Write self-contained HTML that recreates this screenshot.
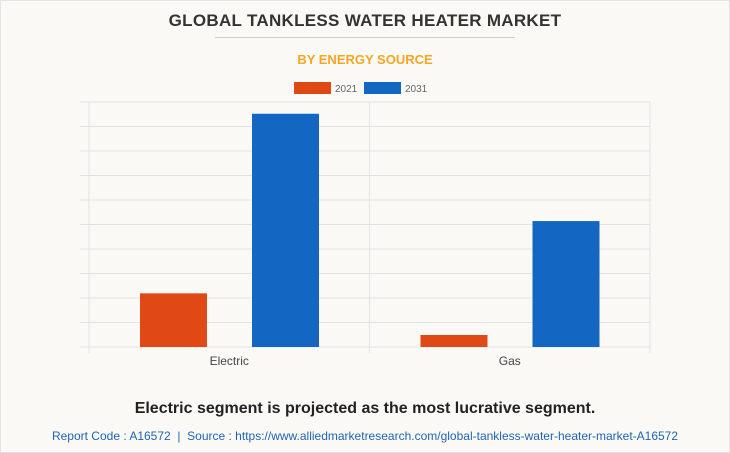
<!DOCTYPE html>
<html><head><meta charset="utf-8"><style>
body{margin:0;background:#fff}
#wrap{position:relative;width:728px;height:451px;border:1px solid #e4e4e4;background:#faf9f5;font-family:"Liberation Sans",sans-serif;overflow:hidden}
.t{position:absolute;left:0;width:728px;text-align:center}
</style></head><body>
<div id="wrap">
<div class="t" style="top:10px;font-size:17px;font-weight:bold;color:#333;letter-spacing:0.3px">GLOBAL TANKLESS WATER HEATER MARKET</div>
<div style="position:absolute;left:214px;top:36px;width:300px;height:1px;background:#ccc"></div>
<div class="t" style="top:51px;font-size:13px;font-weight:bold;color:#f5a623">BY ENERGY SOURCE</div>
<svg id="chart" width="728" height="380" style="position:absolute;left:0;top:0"></svg>
<div class="t" style="top:399px;font-size:16px;font-weight:bold;color:#222">Electric segment is projected as the most lucrative segment.</div>
<div class="t" style="top:428px;font-size:12px;color:#1e64b4">Report Code : A16572 &nbsp;|&nbsp; Source : https://www.alliedmarketresearch.com/global-tankless-water-heater-market-A16572</div>
</div>
<script>
const categories=["Electric","Gas"];
const series2021=[2.19,0.49];
const series2031=[9.52,5.14];
const seriesNames=["2021","2031"];
const yMax=10;
const svg=document.getElementById('chart');
const NS='http://www.w3.org/2000/svg';
const L=88,R=649,T=101,B=346;
function y(v){return B-(v/yMax)*(B-T);}
const cw=(R-L)/categories.length;
function mk(t,a){const e=document.createElementNS(NS,t);for(const k in a)e.setAttribute(k,a[k]);svg.appendChild(e);return e;}
for(let i=0;i<=10;i++){const g=mk('line',{x1:79,x2:R,y1:y(i*yMax/10),y2:y(i*yMax/10),stroke:'#e2e2e2','stroke-width':1});

}
for(let i=0;i<=categories.length;i++){const v=mk('line',{x1:L+i*cw,x2:L+i*cw,y1:T,y2:B+6,stroke:'#e2e2e2'});

}
const colors=["#e04816","#1366c2"];
const all=[series2021,series2031];
categories.forEach((c,i)=>{
 all.forEach((s,j)=>{
  const x=L+i*cw+51+j*112;
  const r=mk('rect',{x:x,y:y(s[i]),width:67,height:B-y(s[i]),fill:colors[j]});
  
  
 });
 const t=mk('text',{x:L+i*cw+cw/2,y:364,'text-anchor':'middle','font-size':12,fill:'#444'});
 t.textContent=c;
 
 
});
const lx=[293,363];
seriesNames.forEach((n,j)=>{
 const r=mk('rect',{x:lx[j],y:81,width:37,height:12,fill:colors[j]});
 
 
 const t=mk('text',{x:lx[j]+41,y:91,'font-size':10,fill:'#666'});
 t.textContent=n;
 
 
});
</script>
</body></html>
